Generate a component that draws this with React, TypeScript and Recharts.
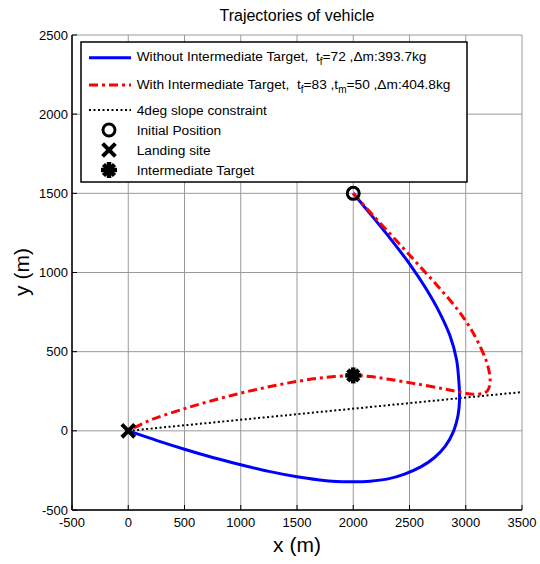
import React from 'react';
import { ComposedChart, XAxis, YAxis, CartesianGrid, Line, Scatter } from 'recharts';

// Axis ticks
const X_TICKS = [-500, 0, 500, 1000, 1500, 2000, 2500, 3000, 3500];
const Y_TICKS = [-500, 0, 500, 1000, 1500, 2000, 2500];

// Trajectory without intermediate target (initial position -> landing site)
const directX = [2000, 2175, 2345, 2505, 2645, 2765, 2860, 2918, 2940, 2945, 2932, 2893, 2820, 2720, 2600, 2450, 2300, 2150, 2000, 1850, 1700, 1500, 1250, 1000, 750, 500, 250, 0];
const directY = [1500, 1350, 1200, 1050, 900, 750, 600, 450, 300, 200, 100, 0, -95, -170, -228, -275, -305, -318, -322, -320, -310, -290, -256, -214, -168, -116, -60, 0];

// Trajectory passing through the intermediate target
const viaTargetX = [2000, 2190, 2385, 2578, 2768, 2945, 3080, 3178, 3214, 3213, 3198, 3160, 3100, 3040, 2980, 2800, 2550, 2300, 2150, 2000, 1750, 1500, 1250, 1000, 750, 500, 250, 125, 0];
const viaTargetY = [1500, 1350, 1200, 1050, 900, 750, 600, 450, 350, 295, 258, 238, 231, 233, 240, 266, 298, 328, 343, 350, 337, 312, 278, 238, 192, 140, 82, 45, 0];

// 4 degree glide-slope constraint
const slopeX = [0, 3500];
const slopeY = [0, 245];

// Special points
const initialPosition = { x: 2000, y: 1500 };
const landingSite = { x: 0, y: 0 };
const intermediateTarget = { x: 2000, y: 350 };

const toPoints = (xs: number[], ys: number[]) => xs.map((x, i) => ({ x, y: ys[i] }));

// Catmull-Rom style smoothing through every sample (works for paths that turn back in x)
const smoothCurve = (context: any) => {
  let pts: number[][] = [];
  return {
    areaStart() {},
    areaEnd() {},
    lineStart() {
      pts = [];
    },
    point(x: number, y: number) {
      pts.push([+x, +y]);
    },
    lineEnd() {
      if (!pts.length) return;
      context.moveTo(pts[0][0], pts[0][1]);
      for (let i = 0; i < pts.length - 1; i++) {
        const p0 = pts[i - 1] || pts[i];
        const p1 = pts[i];
        const p2 = pts[i + 1];
        const p3 = pts[i + 2] || p2;
        context.bezierCurveTo(
          p1[0] + (p2[0] - p0[0]) / 6,
          p1[1] + (p2[1] - p0[1]) / 6,
          p2[0] - (p3[0] - p1[0]) / 6,
          p2[1] - (p3[1] - p1[1]) / 6,
          p2[0],
          p2[1],
        );
      }
    },
  };
};

const FONT = 'Arial, "Liberation Sans", sans-serif';
const TICK_GAP = 8;
const TICK_LEN = 5;

const BottomTick = (p: any) => (
  <g>
    <line x1={p.x} x2={p.x} y1={p.y - TICK_GAP} y2={p.y - TICK_GAP - TICK_LEN} stroke="#000" />
    <text x={p.x} y={p.y} dy="0.71em" textAnchor="middle" fontSize={13} fontFamily={FONT} fill="#000">
      {p.payload.value}
    </text>
  </g>
);

const LeftTick = (p: any) => (
  <g>
    <line x1={p.x + 4} x2={p.x + 4 + TICK_LEN} y1={p.y} y2={p.y} stroke="#000" />
    <text x={p.x} y={p.y} dy="0.355em" textAnchor="end" fontSize={13} fontFamily={FONT} fill="#000">
      {p.payload.value}
    </text>
  </g>
);

const TopTick = (p: any) => (
  <line x1={p.x} x2={p.x} y1={p.y + TICK_GAP} y2={p.y + TICK_GAP + TICK_LEN} stroke="#000" />
);

const RightTick = (p: any) => (
  <line x1={p.x - TICK_GAP} x2={p.x - TICK_GAP - TICK_LEN} y1={p.y} y2={p.y} stroke="#000" />
);

const RingMarker = (p: any) => <circle cx={p.cx} cy={p.cy} r={6} fill="none" stroke="#000" strokeWidth={3} />;

const CrossMarker = (p: any) => (
  <g stroke="#000" strokeWidth={4} strokeLinecap="square">
    <line x1={p.cx - 5} y1={p.cy - 5} x2={p.cx + 5} y2={p.cy + 5} />
    <line x1={p.cx - 5} y1={p.cy + 5} x2={p.cx + 5} y2={p.cy - 5} />
  </g>
);

const StarMarker = (p: any) => (
  <g stroke="#000" strokeWidth={4.5} strokeLinecap="butt">
    <line x1={p.cx - 8} y1={p.cy} x2={p.cx + 8} y2={p.cy} />
    <line x1={p.cx} y1={p.cy - 8} x2={p.cx} y2={p.cy + 8} />
    <line x1={p.cx - 5.5} y1={p.cy - 5.5} x2={p.cx + 5.5} y2={p.cy + 5.5} />
    <line x1={p.cx - 5.5} y1={p.cy + 5.5} x2={p.cx + 5.5} y2={p.cy - 5.5} />
    <circle cx={p.cx} cy={p.cy} r={5.5} fill="#000" stroke="none" />
  </g>
);

const LEGEND_FONT = 13.7;

const Legend = () => (
  <svg
    width={388}
    height={142}
    style={{ position: 'absolute', left: 80, top: 41 }}
    fontFamily={FONT}
    fontSize={LEGEND_FONT}
  >
    <rect x={1} y={1} width={386} height={140} fill="#fff" stroke="#000" strokeWidth={1.5} />
    <line x1={9} x2={51} y1={16.7} y2={16.7} stroke="#0000ff" strokeWidth={3} />
    <text x={56.7} y={19.5} style={{ whiteSpace: 'pre' }}>
      Without Intermediate Target,  t
      <tspan dy={4} fontSize={10}>f</tspan>
      <tspan dy={-4}>=72 ,Δm:393.7kg</tspan>
    </text>
    <line x1={9} x2={51} y1={44} y2={44} stroke="#ff0000" strokeWidth={3} strokeDasharray="9 4 3 4" />
    <text x={56.7} y={47.8} style={{ whiteSpace: 'pre' }}>
      With Intermediate Target,  t
      <tspan dy={4} fontSize={10}>f</tspan>
      <tspan dy={-4}>=83 ,t</tspan>
      <tspan dy={4} fontSize={10}>m</tspan>
      <tspan dy={-4}>=50 ,Δm:404.8kg</tspan>
    </text>
    <line x1={9} x2={51} y1={69} y2={69} stroke="#000" strokeWidth={2} strokeDasharray="2 2.5" />
    <text x={56.7} y={74}>4deg slope constraint</text>
    <RingMarker cx={29} cy={89} />
    <text x={56.7} y={94}>Initial Position</text>
    <CrossMarker cx={29} cy={109} />
    <text x={56.7} y={113.5}>Landing site</text>
    <StarMarker cx={29} cy={129} />
    <text x={56.7} y={133.5}>Intermediate Target</text>
  </svg>
);

export default function App() {
  return (
    <div style={{ position: 'absolute', left: 0, top: 0, width: 540, height: 564, background: '#fff' }}>
      <div
        style={{
          position: 'absolute',
          left: 72,
          width: 450,
          top: 6,
          textAlign: 'center',
          fontFamily: FONT,
          fontSize: 16,
          lineHeight: '20px',
        }}
      >
        Trajectories of vehicle
      </div>
      <ComposedChart width={540} height={564} margin={{ top: 35, right: 18, bottom: 0, left: 0 }}>
        <CartesianGrid stroke="#9a9a9a" strokeWidth={1} horizontalValues={Y_TICKS} verticalValues={X_TICKS} />
        <XAxis
          dataKey="x"
          type="number"
          domain={[-500, 3500]}
          ticks={X_TICKS}
          interval={0}
          allowDataOverflow
          height={54}
          tickSize={0}
          tickMargin={TICK_GAP}
          tickLine={false}
          tick={BottomTick}
          axisLine={{ stroke: '#000', strokeWidth: 1.5 }}
        />
        <XAxis
          xAxisId="top"
          orientation="top"
          dataKey="x"
          type="number"
          domain={[-500, 3500]}
          ticks={X_TICKS}
          interval={0}
          allowDataOverflow
          height={0}
          tickSize={0}
          tickMargin={TICK_GAP}
          tickLine={false}
          tick={TopTick}
          axisLine={{ stroke: '#000', strokeWidth: 1.5 }}
        />
        <YAxis
          dataKey="y"
          type="number"
          domain={[-500, 2500]}
          ticks={Y_TICKS}
          interval={0}
          allowDataOverflow
          width={72}
          tickSize={0}
          tickMargin={4}
          tickLine={false}
          tick={LeftTick}
          axisLine={{ stroke: '#000', strokeWidth: 1.5 }}
        />
        <YAxis
          yAxisId="right"
          orientation="right"
          dataKey="y"
          type="number"
          domain={[-500, 2500]}
          ticks={Y_TICKS}
          interval={0}
          allowDataOverflow
          width={0}
          tickSize={0}
          tickMargin={TICK_GAP}
          tickLine={false}
          tick={RightTick}
          axisLine={{ stroke: '#000', strokeWidth: 1.5 }}
        />
        <Line
          data={toPoints(slopeX, slopeY)}
          dataKey="y"
          type="linear"
          stroke="#000"
          strokeWidth={2}
          strokeDasharray="2 2.5"
          dot={false}
          activeDot={false}
          isAnimationActive={false}
        />
        <Line
          data={toPoints(directX, directY)}
          dataKey="y"
          type={smoothCurve as any}
          stroke="#0000ff"
          strokeWidth={3}
          dot={false}
          activeDot={false}
          isAnimationActive={false}
        />
        <Line
          data={toPoints(viaTargetX, viaTargetY)}
          dataKey="y"
          type={smoothCurve as any}
          stroke="#ff0000"
          strokeWidth={3}
          strokeDasharray="9 4 3 4"
          dot={false}
          activeDot={false}
          isAnimationActive={false}
        />
        <Scatter data={[initialPosition]} dataKey="y" shape={RingMarker} isAnimationActive={false} />
        <Scatter data={[landingSite]} dataKey="y" shape={CrossMarker} isAnimationActive={false} />
        <Scatter data={[intermediateTarget]} dataKey="y" shape={StarMarker} isAnimationActive={false} />
      </ComposedChart>
      <Legend />
      <div
        style={{
          position: 'absolute',
          left: 72,
          width: 450,
          top: 532,
          textAlign: 'center',
          fontFamily: FONT,
          fontSize: 21,
          lineHeight: '26px',
        }}
      >
        x (m)
      </div>
      <div
        style={{
          position: 'absolute',
          left: 22,
          top: 272,
          transform: 'translate(-50%, -50%) rotate(-90deg)',
          fontFamily: FONT,
          fontSize: 21,
          lineHeight: '26px',
          whiteSpace: 'nowrap',
        }}
      >
        y (m)
      </div>
    </div>
  );
}
